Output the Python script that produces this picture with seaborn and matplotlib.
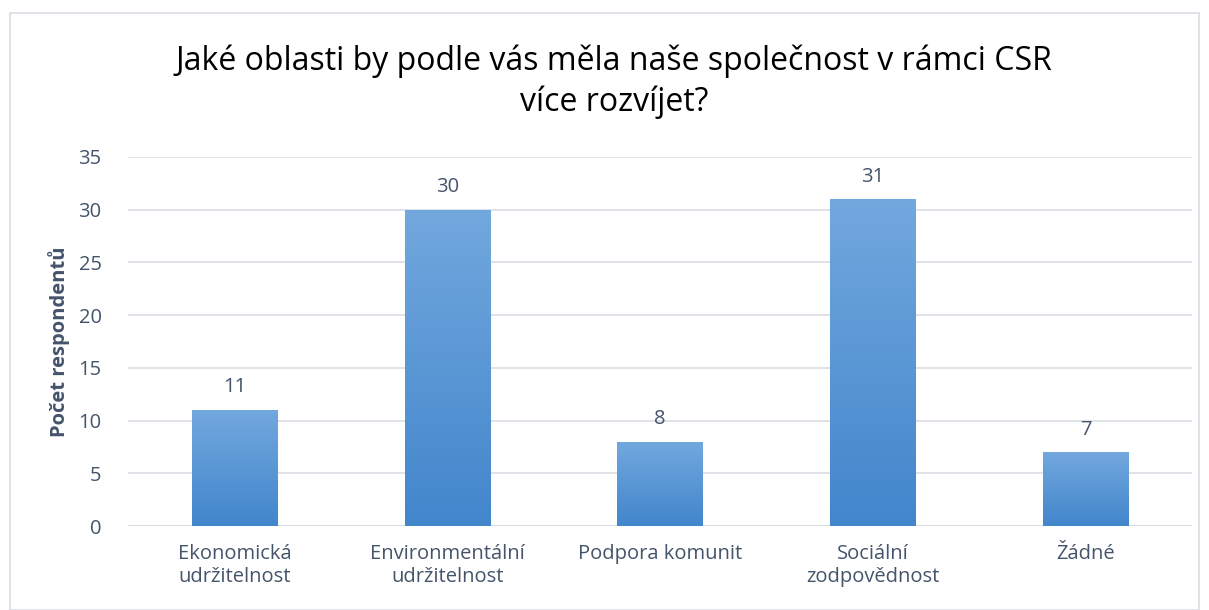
import matplotlib
matplotlib.use("Agg")
import matplotlib.pyplot as plt
import seaborn as sns
import numpy as np
import pandas as pd
from matplotlib.patches import Rectangle

# data
kategorie = ['Ekonomická\nudržitelnost', 'Environmentální\nudržitelnost', 'Podpora komunit',
             'Sociální\nzodpovědnost', 'Žádné']
pocty = [11, 30, 8, 31, 7]

df = pd.DataFrame({'kategorie': kategorie, 'pocet': pocty})

sns.set_theme(style='white')
plt.rcParams['font.family'] = ['Open Sans', 'DejaVu Sans']
txt = '#44546a'

fig = plt.figure(figsize=(12.09, 6.10), dpi=100)
ax = fig.add_axes([128 / 1209, 1 - 526 / 610, (1192 - 128) / 1209, (526 - 157) / 610])

sns.barplot(x='kategorie', y='pocet', data=df, color='#5b9bd5', width=0.4, ax=ax, zorder=2)

# gradient fill for bars
grad = np.linspace(0, 1, 256).reshape(-1, 1)
cmap = matplotlib.colors.LinearSegmentedColormap.from_list('g', ['#4286cc', '#72a8de'])
for p in ax.patches:
    x0, y0 = p.get_x(), p.get_y()
    w, h = p.get_width(), p.get_height()
    p.set_facecolor('none')
    p.set_edgecolor('none')
    im = ax.imshow(grad, cmap=cmap, aspect='auto', origin='lower',
                   extent=[x0, x0 + w, y0, y0 + h], zorder=2)
    im.set_clip_path(p)
    ax.text(x0 + w / 2, h + 1.2, f'{int(h)}', ha='center', va='bottom', fontsize=14.5, color=txt)

ax.set_xlim(-0.5, len(kategorie) - 0.5)
ax.set_ylim(0, 35)
ax.set_yticks(range(0, 36, 5))
ax.yaxis.grid(True, color='#d9dde3', linewidth=1.2, zorder=0)
ax.set_axisbelow(True)
for s in ax.spines.values():
    s.set_visible(False)
ax.axhline(0, color='#d9dde3', linewidth=1.5, zorder=1)

ax.tick_params(axis='both', length=0, labelsize=14.5, colors=txt)
ax.tick_params(axis='x', pad=13)
ax.tick_params(axis='y', pad=19)
ax.set_xlabel('')
ax.set_ylabel('Počet respondentů', fontsize=14.5, fontweight='bold', color=txt, labelpad=6)

fig.text(0.508, 1 - 82 / 610, 'Jaké oblasti by podle vás měla naše společnost v rámci CSR\nvíce rozvíjet?',
         ha='center', va='center', fontsize=23, color='black', linespacing=1.28)

# chart frame
fig.patches.append(Rectangle((10 / 1209, 0), 1189 / 1209, 1 - 13 / 610, transform=fig.transFigure,
                             fill=False, edgecolor='#d9dde3', linewidth=1.2))

fig.savefig('out.png', dpi=100)
